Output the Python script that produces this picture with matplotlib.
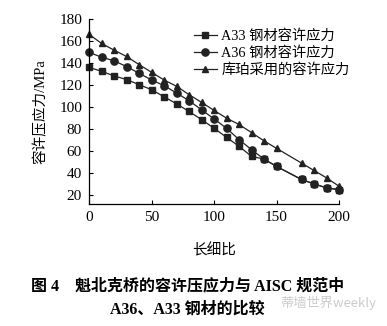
import matplotlib
matplotlib.use("Agg")
import matplotlib.pyplot as plt

plt.rcParams['font.family'] = ['Liberation Serif', 'Noto Sans CJK SC', 'DejaVu Sans']

# slenderness ratio
x_a33 = [0, 10, 20, 30, 40, 50, 60, 70, 80, 90, 100, 110, 120, 130, 140, 150, 170, 180, 190, 200]
y_a33 = [136, 132.5, 128.3, 125, 120.4, 115.8, 109.4, 103, 96, 88.7, 80.8, 72.6, 64.4, 55.3, 52.8, 46.2, 34.3, 30.3, 26.7, 25]

x_a36 = [0, 10, 20, 30, 40, 50, 60, 70, 80, 90, 100, 110, 120, 130, 140, 150, 170, 180, 190, 200]
y_a36 = [149.6, 145.3, 142, 136.8, 130.7, 124.6, 119.5, 112.8, 105.8, 97.6, 89.3, 80.8, 70.5, 61.4, 52.8, 46.2, 34.3, 30.3, 26.7, 25.2]

x_cooper = [0, 10, 20, 30, 40, 50, 60, 70, 80, 90, 100, 110, 120, 130, 140, 150, 170, 180, 190, 200]
y_cooper = [166, 157.8, 151.7, 145.9, 138.6, 131.6, 124.6, 118.9, 111.3, 104.3, 97, 90, 84.2, 76.9, 69.3, 62.6, 49.2, 42.5, 35.8, 28.2]

labels = ['A33 钢材容许应力', 'A36 钢材容许应力', '库珀采用的容许应力']
xticks = [0, 50, 100, 150, 200]
yticks = [20, 40, 60, 80, 100, 120, 140, 160, 180]

fig = plt.figure(figsize=(3.87, 3.26), dpi=100)
ax = fig.add_axes([0.230, 0.374, 0.646, 0.568])

ln = dict(color='#222222', lw=0.9, clip_on=False)
ax.plot(x_cooper, y_cooper, marker='^', ms=5, label=labels[2], **ln)
ax.plot(x_a33, y_a33, marker='s', ms=4.8, label=labels[0], **ln)
ax.plot(x_a36, y_a36, marker='o', ms=5.2, label=labels[1], **ln)

ax.set_xlim(0, 200)
ax.set_ylim(12, 180)
ax.set_xticks(xticks)
ax.set_yticks(yticks)
ax.tick_params(direction='in', length=3, width=0.8, labelsize=11, pad=5)
for s in ['top', 'right']:
    ax.spines[s].set_visible(False)
for s in ['left', 'bottom']:
    ax.spines[s].set_linewidth(0.9)

ax.set_ylabel('容许压应力/MPa', fontsize=10.5, labelpad=8)
ax.set_xlabel('长细比', fontsize=10.5, labelpad=14)

h, l = ax.get_legend_handles_labels()
order = [1, 2, 0]
ax.legend([h[i] for i in order], [l[i] for i in order], loc='upper left',
          bbox_to_anchor=(0.38, 1.0), frameon=False, fontsize=10.3,
          handlelength=1.6, handletextpad=0.3, labelspacing=0.25, borderpad=0.2)

fig.text(0.485, 0.123, '图 4    魁北克桥的容许压应力与 AISC 规范中',
         ha='center', va='center', fontsize=11.5, fontweight='bold')
fig.text(0.483, 0.049, 'A36、A33 钢材的比较',
         ha='center', va='center', fontsize=11.5, fontweight='bold')
fig.text(0.848, 0.071, '蒂墙世界weekly', ha='center', va='center',
         fontsize=9.5, color='#cccccc', family=['Noto Sans CJK SC', 'DejaVu Sans'])

fig.savefig('out.png', dpi=100)
